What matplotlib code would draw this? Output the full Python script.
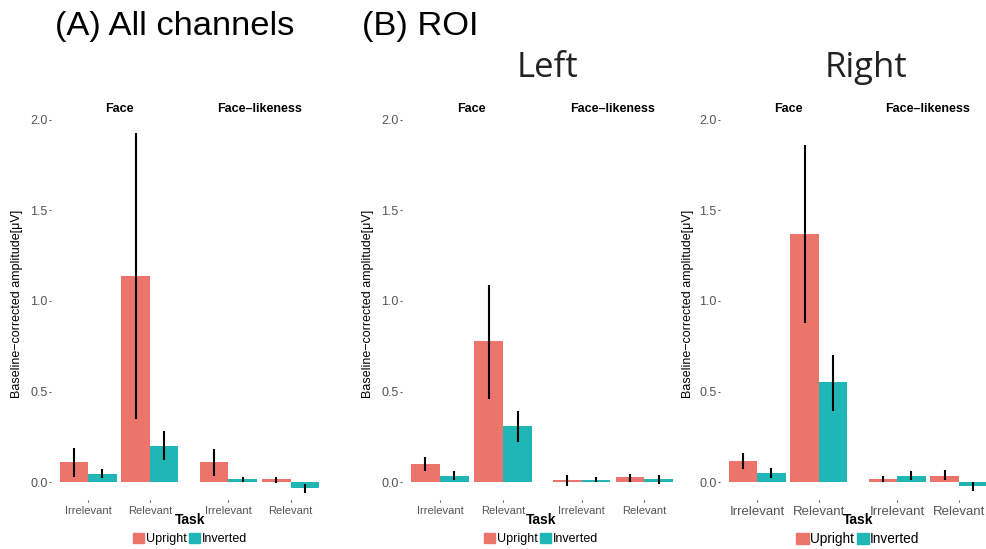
import matplotlib
matplotlib.use("Agg")
import matplotlib.pyplot as plt
from matplotlib.patches import Patch
import numpy as np

W, H = 986, 549

tasks = ['Irrelevant', 'Relevant']
facets = ['Face', 'Face\u2013likeness']
conds = ['Upright', 'Inverted']
colors = ['#EB756A', '#21B6B6']

# values: order = Face/Irrelevant, Face/Relevant, FL/Irrelevant, FL/Relevant
all_up = [0.11, 1.14, 0.11, 0.015]
all_up_lo = [0.03, 0.35, 0.035, -0.005]
all_up_hi = [0.19, 1.93, 0.18, 0.03]
all_inv = [0.045, 0.20, 0.015, -0.035]
all_inv_lo = [0.02, 0.12, 0.0, -0.06]
all_inv_hi = [0.07, 0.28, 0.03, -0.01]

left_up = [0.10, 0.78, 0.01, 0.025]
left_up_lo = [0.06, 0.46, -0.02, 0.0]
left_up_hi = [0.14, 1.09, 0.04, 0.045]
left_inv = [0.035, 0.31, 0.01, 0.015]
left_inv_lo = [0.01, 0.22, 0.0, -0.01]
left_inv_hi = [0.06, 0.39, 0.025, 0.04]

right_up = [0.115, 1.37, 0.015, 0.035]
right_up_lo = [0.07, 0.88, 0.0, 0.01]
right_up_hi = [0.16, 1.86, 0.035, 0.065]
right_inv = [0.05, 0.55, 0.035, -0.02]
right_inv_lo = [0.02, 0.39, 0.01, -0.05]
right_inv_hi = [0.08, 0.70, 0.06, 0.0]

yticks = [0.0, 0.5, 1.0, 1.5, 2.0]
ylabel = 'Baseline\u2212corrected amplitude[\u03bcV]'

fig = plt.figure(figsize=(W / 100, H / 100), dpi=100)
plt.rcParams['font.family'] = ['Liberation Sans', 'DejaVu Sans']


def fx(px):
    return px / W


def fy(py):
    return 1 - py / H


def panel(edges, up, up_lo, up_hi, inv, inv_lo, inv_hi, xfs, lfs, ylab_x, center_x):
    top, bot = 118, 500
    for k, (x0, x1) in enumerate(edges):
        ax = fig.add_axes([fx(x0), fy(bot), fx(x1 - x0), (bot - top) / H])
        ax.set_xlim(-0.6, 1.6)
        ax.set_ylim(-0.0994, 2.011)
        idx = [2 * k, 2 * k + 1]
        x = np.arange(2)
        bw = 0.46
        vals = [(up, up_lo, up_hi), (inv, inv_lo, inv_hi)]
        for j, (v, lo, hi) in enumerate(vals):
            xs = x + (j - 0.5) * bw
            ax.bar(xs, [v[i] for i in idx], width=bw, color=colors[j], zorder=2)
            ax.vlines(xs, [lo[i] for i in idx], [hi[i] for i in idx],
                      color='black', lw=1.5, zorder=3)
        for s in ax.spines.values():
            s.set_visible(False)
        ax.set_xticks(x)
        ax.set_xticklabels(tasks, fontsize=xfs, color='#555555')
        ax.tick_params(axis='x', length=1.5, width=0.8, color='#555555', pad=3)
        ax.set_yticks(yticks)
        if k == 0:
            ax.set_yticklabels(['%.1f' % t for t in yticks], fontsize=9,
                               color='#555555')
            ax.tick_params(axis='y', length=1.5, width=0.8, color='#555555', pad=1)
        else:
            ax.tick_params(axis='y', left=False, labelleft=False)
        ax.set_title(facets[k], fontsize=9, fontweight='bold', pad=4)
    fig.text(fx(ylab_x), fy(304), ylabel, rotation=90, fontsize=9,
             ha='center', va='center')
    fig.text(fx(center_x), fy(520), 'Task', fontsize=10, fontweight='bold',
             ha='center', va='center')
    handles = [Patch(color=c) for c in colors]
    fig.legend(handles, conds, loc='center', bbox_to_anchor=(fx(center_x), fy(539)),
               ncol=2, frameon=False, fontsize=lfs, handlelength=0.9,
               handleheight=0.9, handletextpad=0.1, columnspacing=0.2,
               borderpad=0, borderaxespad=0)


panel([(51, 187), (191, 328)], all_up, all_up_lo, all_up_hi,
      all_inv, all_inv_lo, all_inv_hi, 8, 9, 17, 190)
panel([(402, 541), (544, 682)], left_up, left_up_lo, left_up_hi,
      left_inv, left_inv_lo, left_inv_hi, 8, 9, 368, 541)
panel([(720, 856), (860, 996)], right_up, right_up_lo, right_up_hi,
      right_inv, right_inv_lo, right_inv_hi, 9.5, 9.8, 688, 858)

fig.text(fx(55), fy(27), '(A) All channels', fontsize=24.8, ha='left', va='center')
fig.text(fx(362), fy(27), '(B) ROI', fontsize=24.8, ha='left', va='center')
fig.text(fx(547), fy(68), 'Left', fontsize=25, ha='center', va='center',
         family='Open Sans', color='#222222')
fig.text(fx(866), fy(68), 'Right', fontsize=25, ha='center', va='center',
         family='Open Sans', color='#222222')

fig.savefig('out.png', dpi=100)
